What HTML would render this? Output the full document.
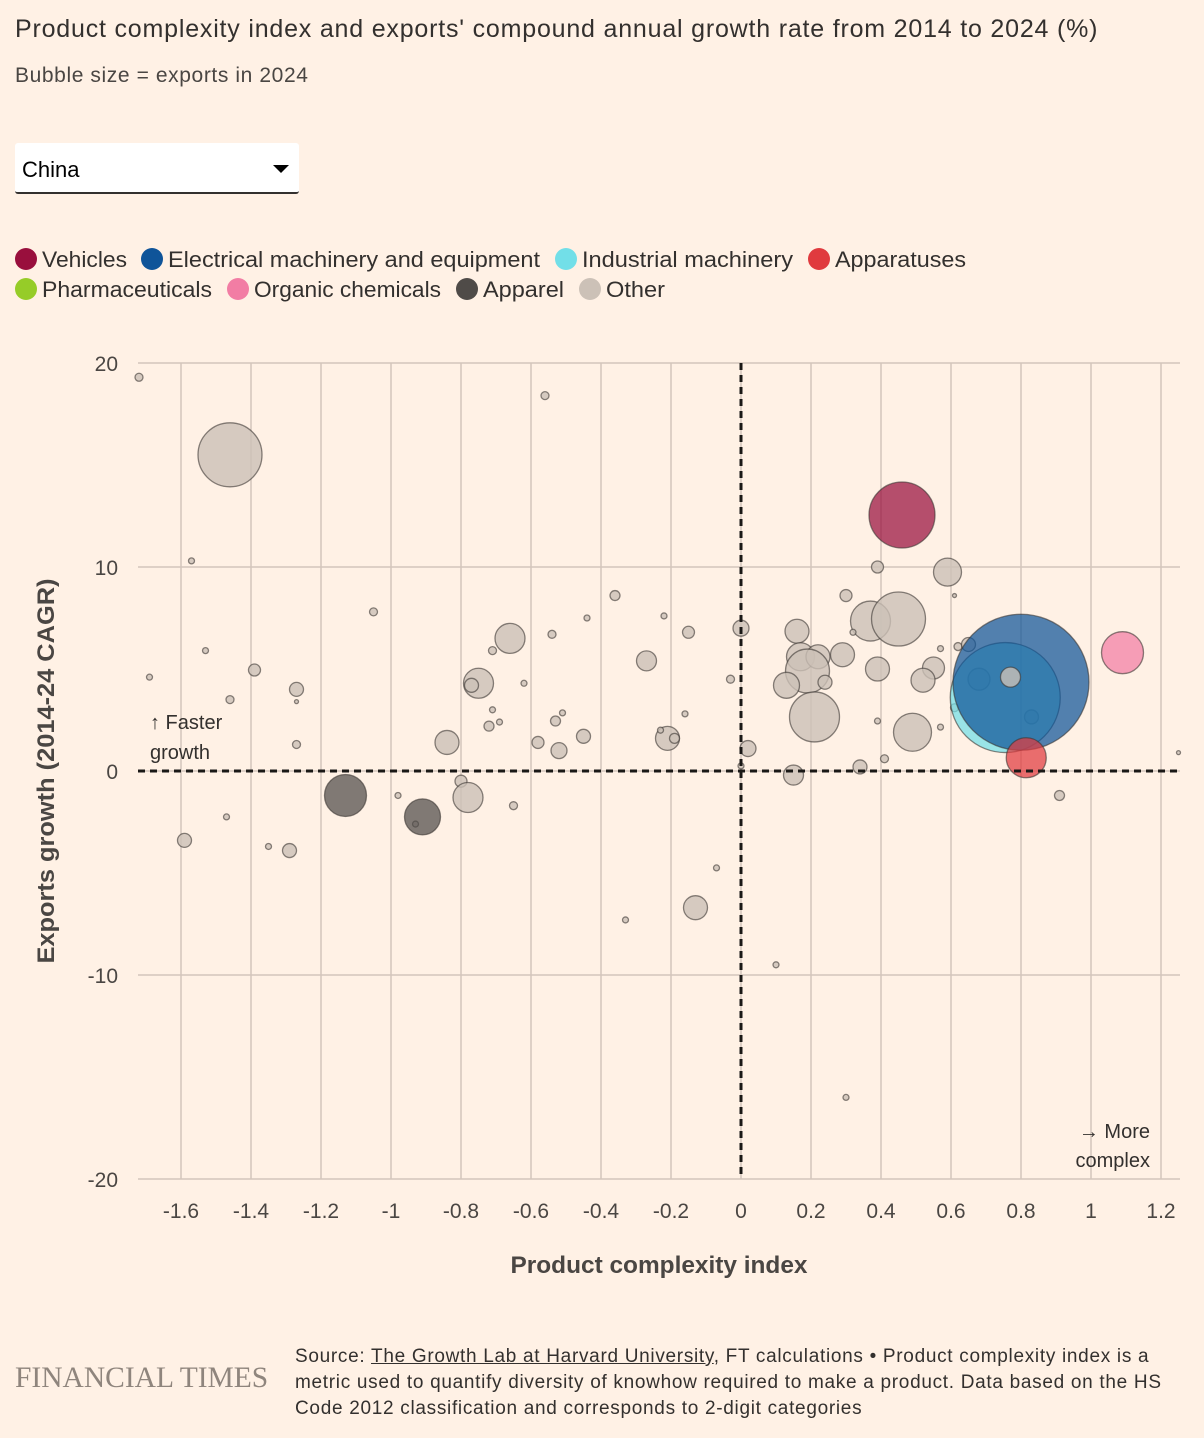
<!DOCTYPE html>
<html><head><meta charset="utf-8">
<style>
html,body{margin:0;padding:0;background:#fff1e5;}
body{width:1204px;height:1438px;position:relative;overflow:hidden;font-family:"Liberation Sans",sans-serif;color:#33302e;}
.t{position:absolute;white-space:nowrap;}
</style></head>
<body>
<div class="t" style="left:15px;top:15px;font-size:25px;letter-spacing:0.8px;">Product complexity index and exports' compound annual growth rate from 2014 to 2024 (%)</div>
<div class="t" style="left:15px;top:64px;font-size:21px;letter-spacing:0.6px;color:#4a4643;">Bubble size = exports in 2024</div>
<div style="position:absolute;left:15px;top:143px;width:284px;height:51px;background:#fff;border-bottom:2px solid #33302e;border-radius:3px;box-sizing:border-box;">
  <span class="t" style="left:7px;top:14px;font-size:22px;color:#000;">China</span>
  <span style="position:absolute;right:10px;top:22px;width:0;height:0;border-left:8px solid transparent;border-right:8px solid transparent;border-top:8px solid #000;"></span>
</div>
<svg id="chart" width="1204" height="1438" style="position:absolute;left:0;top:0;"></svg>
<div class="t" style="left:15px;top:1362px;font-family:'Liberation Serif',serif;font-size:29.5px;color:#8f857d;">FINANCIAL TIMES</div>
<div class="t" style="left:295px;top:1344px;font-size:19px;letter-spacing:0.7px;line-height:26px;color:#33302e;">Source: <span style="text-decoration:underline;">The Growth Lab at Harvard University</span>, FT calculations • Product complexity index is a<br>metric used to quantify diversity of knowhow required to make a product. Data based on the HS<br>Code 2012 classification and corresponds to 2-digit categories</div>
<script>
const categories=["Vehicles","Electrical machinery and equipment","Industrial machinery","Apparatuses","Pharmaceuticals","Organic chemicals","Apparel","Other"];
const catColors=["#990f3d","#0f5499","#72dfe8","#e03a3e","#96cc28","#f27da4","#4f4b48","#ccc1b7"];
const xTicks=[-1.6,-1.4,-1.2,-1,-0.8,-0.6,-0.4,-0.2,0,0.2,0.4,0.6,0.8,1,1.2];
const yTicks=[20,10,0,-10,-20];
const pci=[-1.72,-0.56,-1.46,-1.57,-1.05,-1.69,-1.53,-1.39,-1.46,-1.27,-1.27,-1.27,-1.47,-1.59,-1.35,-1.29,-0.98,-0.80,-0.78,-0.84,-0.75,-0.77,-0.66,-0.71,-0.71,-0.72,-0.69,-0.62,-0.54,-0.53,-0.51,-0.58,-0.52,-0.45,-0.65,-0.36,-0.27,-0.22,-0.44,-0.15,-0.16,-0.21,-0.19,-0.23,-0.03,0.0,0.02,0.0,-0.07,-0.33,-0.13,0.10,0.30,0.39,0.59,0.61,0.30,0.37,0.45,0.32,0.16,0.17,0.22,0.19,0.13,0.24,0.29,0.39,0.55,0.52,0.57,0.62,0.65,0.21,0.39,0.49,0.57,0.41,0.34,0.15,0.91,1.25,0.61,-0.93,0.68,0.83,0.755,0.80,0.77,0.815,1.09,0.46,-1.13,-0.91];
const growth=[19.3,18.4,15.5,10.3,7.8,4.6,5.9,4.95,3.5,4.0,3.4,1.3,-2.25,-3.4,-3.7,-3.9,-1.2,-0.5,-1.3,1.4,4.3,4.2,6.5,5.9,3.0,2.2,2.4,4.3,6.7,2.45,2.85,1.4,1.0,1.7,-1.7,8.6,5.4,7.6,7.5,6.8,2.8,1.6,1.6,2.0,4.5,7.0,1.1,0.25,-4.75,-7.3,-6.7,-9.5,-16.0,10.0,9.75,8.6,8.6,7.35,7.45,6.8,6.85,5.6,5.6,4.9,4.2,4.35,5.7,5.0,5.05,4.45,6.0,6.1,6.2,2.65,2.45,1.9,2.15,0.6,0.2,-0.2,-1.2,0.9,3.1,-2.6,4.5,2.65,3.6,4.35,4.6,0.65,5.8,12.55,-1.2,-2.25];
const exportsSize=[16,16,1024,9,16,9,9,36,16,49,4,16,9,49,9,49,9,36,225,144,225,49,225,16,9,25,9,9,16,25,9,36,64,49,16,25,100,9,9,36,9,144,25,9,16,64,64,9,9,9,144,9,9,36,196,4,36,400,729,9,144,196,144,484,169,49,144,144,121,144,9,16,49,625,9,361,9,16,49,100,25,4,16,9,121,49,3025,4624,100,400,441,1089,441,324];
const category=[7,7,7,7,7,7,7,7,7,7,7,7,7,7,7,7,7,7,7,7,7,7,7,7,7,7,7,7,7,7,7,7,7,7,7,7,7,7,7,7,7,7,7,7,7,7,7,7,7,7,7,7,7,7,7,7,7,7,7,7,7,7,7,7,7,7,7,7,7,7,7,7,7,7,7,7,7,7,7,7,7,7,7,7,7,7,2,1,7,3,5,0,6,6];
const NS="http://www.w3.org/2000/svg";
const svg=document.getElementById('chart');
const X0=741,XS=350,Y0=771,YS=20.4,L=138,R=1180,T=363,B=1179;
const sx=v=>X0+v*XS, sy=v=>Y0-v*YS;
function mk(tag,attrs){const e=document.createElementNS(NS,tag);for(const k in attrs)e.setAttribute(k,attrs[k]);svg.appendChild(e);return e;}
function txt(x,y,s,attrs){const e=mk('text',Object.assign({x:x,y:y,'font-family':'Liberation Sans, sans-serif'},attrs));e.textContent=s;return e;}
const legendRows=[[0,1,2,3],[4,5,6,7]];
const legendX=[[15,141,555,808],[15,227,456,579]];
const legendW=[[85,372,211,131],[170,187,81,59]];
legendRows.forEach((row,ri)=>{row.forEach((ci,j)=>{
  const x=legendX[ri][j],y=259+ri*30;
  const c=mk('circle',{cx:x+11,cy:y,r:11,fill:catColors[ci]});
  
  
  const t=txt(x+27,y+8,categories[ci],{'font-size':22,fill:'#33302e',textLength:legendW[ri][j],lengthAdjust:'spacingAndGlyphs'});
  
  
});});
xTicks.forEach(v=>{
  const l=mk('line',{x1:sx(v),x2:sx(v),y1:T,y2:B,stroke:'#d3c6bc','stroke-width':1.5});
  
  
  const t=txt(sx(v),1218,String(v),{'font-size':21,fill:'#4a4643','text-anchor':'middle'});
  
  
});
yTicks.forEach(v=>{
  const l=mk('line',{x1:L,x2:R,y1:sy(v),y2:sy(v),stroke:'#d3c6bc','stroke-width':1.5});
  
  
  const t=txt(118,sy(v)+8,String(v),{'font-size':21,fill:'#4a4643','text-anchor':'end'});
  
  
});
pci.forEach((v,i)=>{
  const ci=category[i];
  const c=mk('circle',{cx:sx(v),cy:sy(growth[i]),r:Math.sqrt(exportsSize[i]),fill:catColors[ci],'fill-opacity':ci===7?0.8:0.72,stroke:'#3a3532','stroke-opacity':0.6,'stroke-width':1.3});
  
  
});
const zx=mk('line',{x1:sx(0),x2:sx(0),y1:T,y2:B,stroke:'#1a1816','stroke-width':3,'stroke-dasharray':'7,5'});


const zy=mk('line',{x1:L,x2:R,y1:sy(0),y2:sy(0),stroke:'#1a1816','stroke-width':3,'stroke-dasharray':'7,5'});


let a=txt(150,729,'↑ Faster',{'font-size':20,fill:'#33302e'});


a=txt(150,759,'growth',{'font-size':20,fill:'#33302e'});


a=txt(1150,1138,'→ More',{'font-size':20,fill:'#33302e','text-anchor':'end'});


a=txt(1150,1167,'complex',{'font-size':20,fill:'#33302e','text-anchor':'end'});


a=txt(659,1273,'Product complexity index',{'font-size':24,fill:'#4a4643','text-anchor':'middle','font-weight':'bold',textLength:297,lengthAdjust:'spacingAndGlyphs'});


a=txt(0,0,'Exports growth (2014-24 CAGR)',{'font-size':24,fill:'#4a4643','text-anchor':'middle','font-weight':'bold',transform:'translate(54,771) rotate(-90)',textLength:385,lengthAdjust:'spacingAndGlyphs'});


</script>
</body></html>
